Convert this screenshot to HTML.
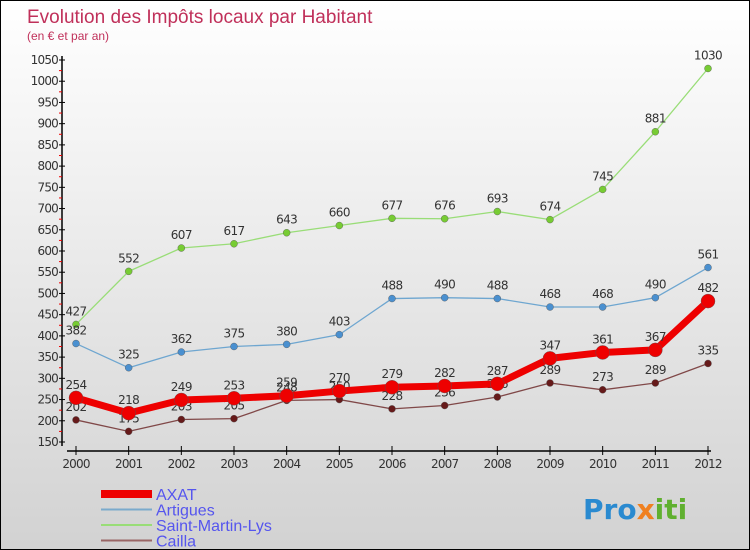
<!DOCTYPE html>
<html><head><meta charset="utf-8"><style>
body{margin:0}
#c{width:750px;height:550px;position:relative;overflow:hidden;border:1px solid #000;box-sizing:border-box;background:linear-gradient(#ffffff,#d2d2d2);font-family:"DejaVu Sans","Liberation Sans",sans-serif}
</style></head><body>
<div id="c">
<svg id="s" width="750" height="550" style="position:absolute;left:0;top:0">
<text x="26" y="22" font-size="19" fill="#c0305a" font-family="Liberation Sans, sans-serif">Evolution des Impôts locaux par Habitant</text>
<text x="26" y="39" font-size="12" fill="#c0305a" font-family="Liberation Sans, sans-serif">(en € et par an)</text>
<g id="axes"></g><g id="series"></g><g id="legend"></g>
<text x="582" y="518" font-size="28" font-weight="bold" fill="#2a8ad0">Pro<tspan fill="#f08020">x</tspan><tspan fill="#60b030">iti</tspan></text>
</svg>
</div>
<script>
const years=[2000,2001,2002,2003,2004,2005,2006,2007,2008,2009,2010,2011,2012];
const yTicks=[150,200,250,300,350,400,450,500,550,600,650,700,750,800,850,900,950,1000,1050];
const axat=[254,218,249,253,259,270,279,282,287,347,361,367,482];
const artigues=[382,325,362,375,380,403,488,490,488,468,468,490,561];
const saintMartin=[427,552,607,617,643,660,677,676,693,674,745,881,1030];
const cailla=[202,175,203,205,248,250,228,236,256,289,273,289,335];
const NS="http://www.w3.org/2000/svg";
function X(i){return 75+i*(707-75)/(years.length-1);}
function Y(v){return 441-(v-150)*(441-59)/900;}
function mk(p,t,a){const e=document.createElementNS(NS,t);for(const k in a)e.setAttribute(k,a[k]);p.appendChild(e);return e;}
const ax=document.getElementById('axes');
let l=mk(ax,'line',{x1:61,y1:55,x2:61,y2:445,stroke:'#000','stroke-width':1.5});

l=mk(ax,'line',{x1:66,y1:450,x2:710,y2:450,stroke:'#000','stroke-width':1.5});

yTicks.forEach((v,i)=>{mk(ax,'line',{x1:58,y1:Y(v),x2:64,y2:Y(v),stroke:'#000'});
 if(i<yTicks.length-1)mk(ax,'line',{x1:58,y1:Y(v+25),x2:61,y2:Y(v+25),stroke:'#e00'});
 const t=mk(ax,'text',{x:57,y:Y(v)+4,'font-size':12,fill:'#333','text-anchor':'end','letter-spacing':'-0.8'});t.textContent=v;
 });
years.forEach((y,i)=>{mk(ax,'line',{x1:X(i),y1:445,x2:X(i),y2:454,stroke:'#000'});
 const t=mk(ax,'text',{x:X(i),y:467,'font-size':12,fill:'#333','text-anchor':'middle','letter-spacing':'-0.8'});t.textContent=y;
 });
const sg=document.getElementById('series');
function draw(name,data,color,w,r,pc){
 const g=mk(sg,'g',{});
 const p=mk(g,'polyline',{points:data.map((v,i)=>X(i)+','+Y(v)).join(' '),fill:'none',stroke:color,'stroke-width':w,'stroke-linejoin':'round'});
 
 data.forEach((v,i)=>{const c=mk(g,'circle',{cx:X(i),cy:Y(v),r:r,fill:pc,stroke:'#555','stroke-width':0.4});
  
  const t=mk(g,'text',{x:X(i),y:Y(v)-9,'font-size':12,fill:'#333','text-anchor':'middle','letter-spacing':'-0.6'});t.textContent=v;
  });
}
draw('saint-martin-lys',saintMartin,'#99dd77',1.3,3.5,'#77cc33');
draw('artigues',artigues,'#6ea6d0',1.3,3.5,'#4a90d0');
draw('cailla',cailla,'#804848',1.3,3.5,'#661a1a');
draw('axat',axat,'#ee0000',7,7,'#ee0000');
const lg=document.getElementById('legend');
[['AXAT','#ee0000',8],['Artigues','#7aaacc',2],['Saint-Martin-Lys','#99dd77',2],['Cailla','#996666',2]].forEach((d,i)=>{
 const y=493+i*15.5;
 const ln=mk(lg,'line',{x1:100,y1:y,x2:151,y2:y,stroke:d[1],'stroke-width':d[2]});
 
 const t=mk(lg,'text',{x:155,y:y+6,'font-size':16,fill:'#5555ee','font-family':'Liberation Sans, sans-serif'});t.textContent=d[0];
 });
</script>
</body></html>
